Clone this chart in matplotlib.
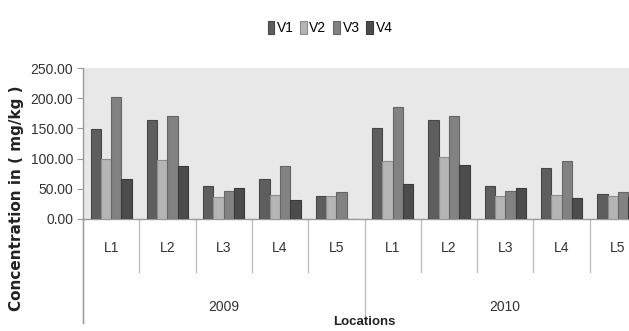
import numpy as np
import matplotlib.pyplot as plt

years = ['2009', '2010']
locations = ['L1', 'L2', 'L3', 'L4', 'L5']
series = ['V1', 'V2', 'V3', 'V4']

# values per location, 2009 first then 2010
v1 = [149, 164, 55, 67, 38, 150, 164, 55, 84, 42]
v2 = [100, 98, 37, 39, 38, 96, 102, 38, 40, 38]
v3 = [202, 171, 47, 88, 45, 185, 171, 47, 96, 45]
v4 = [67, 87, 52, 32, 0, 58, 90, 52, 34, 36]

fills = ['#5e5e5e', '#b5b5b5', '#828282', '#4c4c4c']
edges = ['#474747', '#8c8c8c', '#666666', '#3a3a3a']

plt.rcParams['font.family'] = ['Liberation Sans', 'DejaVu Sans']

fig = plt.figure(figsize=(6.29, 3.31), dpi=100)
# the plot runs past the right edge of the figure on purpose
ax = fig.add_axes([83 / 629, 112 / 331, 563 / 629, 151 / 331])
ax.set_facecolor('#e8e8e8')

n = len(v1)
x = np.arange(n)
w = 0.183
for i, vals in enumerate([v1, v2, v3, v4]):
    ax.bar(x + (i - 1.5) * w, vals, w, color=fills[i], edgecolor=edges[i],
           linewidth=0.8, label=series[i], zorder=3)

ax.set_xlim(-0.5, n - 0.5)
ax.set_ylim(0, 250)
ax.set_yticks(np.arange(0, 251, 50))
ax.set_yticklabels(['%.2f' % t for t in np.arange(0, 251, 50)], fontsize=10, color='#333333')
ax.set_xticks([])
ax.tick_params(axis='y', length=4, color='#999999', pad=3)
for s in ['top', 'right']:
    ax.spines[s].set_visible(False)
for s in ['left', 'bottom']:
    ax.spines[s].set_color('#999999')
    ax.spines[s].set_linewidth(1.0)

tr = ax.get_xaxis_transform()
# location labels and short separators
for k in range(n):
    ax.text(k, -0.19, locations[k % 5], transform=tr, ha='center', va='center',
            fontsize=10, color='#333333')
for k in range(n + 1):
    bottom = -0.69 if k % 5 == 0 else -0.35
    ax.plot([k - 0.5, k - 0.5], [0, bottom], transform=tr, color='#bbbbbb',
            lw=0.9, clip_on=False)
# left axis line carried down past the category rows
ax.plot([-0.5, -0.5], [0, -0.69], transform=tr, color='#999999', lw=1.0, clip_on=False)
for j, yr in enumerate(years):
    ax.text(j * 5 + 2, -0.58, yr, transform=tr, ha='center', va='center',
            fontsize=10, color='#333333')
ax.text(4.5, -0.685, 'Locations', transform=tr, ha='center', va='center',
        fontsize=9.5, fontweight='bold', color='#222222')

fig.text(17 / 629, 1 - 198 / 331, 'Concentration in ( mg/kg )', rotation=90,
         ha='center', va='center', fontsize=11, fontweight='bold',
         family='DejaVu Sans', color='#222222')

fig.legend(loc='center', bbox_to_anchor=(330 / 629, 1 - 28 / 331), ncol=4,
           frameon=False, fontsize=10, handlelength=0.5, handleheight=1.1,
           handletextpad=0.15, columnspacing=0.5)

fig.savefig('out.png', dpi=100)
